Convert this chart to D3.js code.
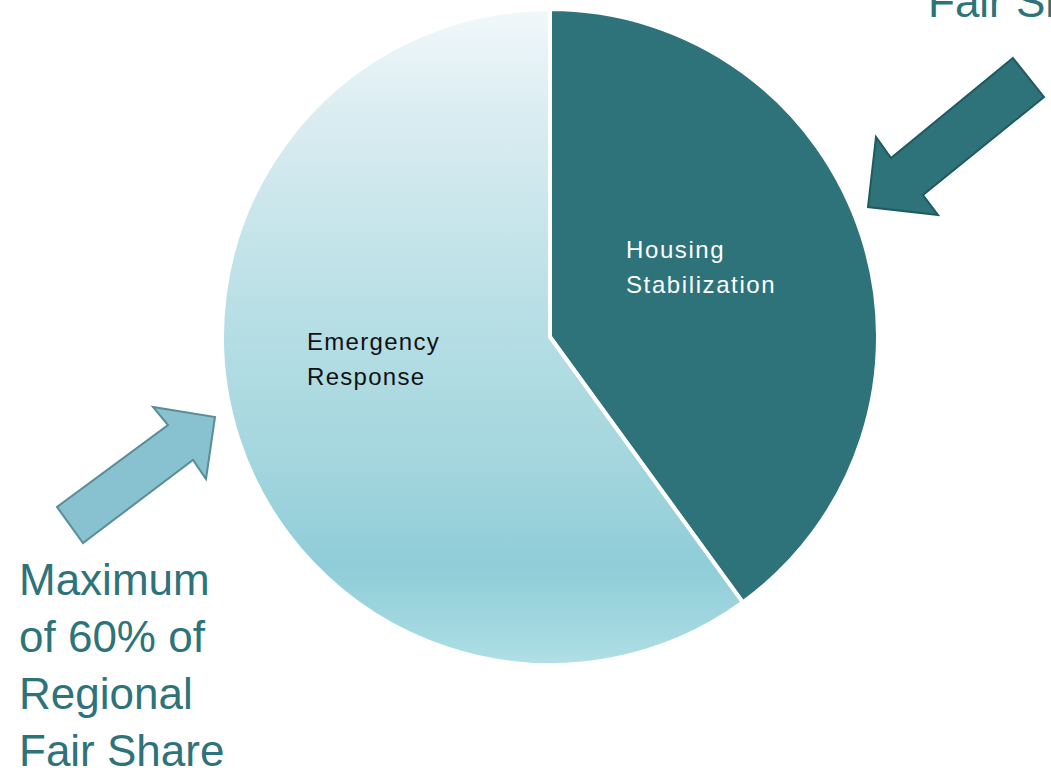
<!DOCTYPE html>
<html>
<head>
<meta charset="utf-8">
<script src="https://cdn.jsdelivr.net/npm/d3@7/dist/d3.min.js"></script>
<style>
  body { margin: 0; background: #fff; overflow: hidden; }
  text { font-family: "Liberation Sans", Arial, sans-serif; }
</style>
</head>
<body>
<script>
// pie data
var categories = ["Housing Stabilization", "Emergency Response"];
var shares = [40, 60];
var labelLines = [["Housing", "Stabilization"], ["Emergency", "Response"]];
var noteLeft = ["Maximum", "of 60% of", "Regional", "Fair Share"];
var noteRight = ["Fair Share"];

var width = 1051, height = 771;
var cx = 550, cy = 337, r = 328;

var svg = d3.select("body")
  .append("svg")
    .attr("width", width)
    .attr("height", height);

// gradient is in the pie group's own coordinates
var defs = svg.append("defs");
var grad = defs.append("linearGradient")
    .attr("id", "lightFill")
    .attr("gradientUnits", "userSpaceOnUse")
    .attr("x1", 0).attr("y1", -r)
    .attr("x2", 0).attr("y2", r);
[[0, "#f1f8fa"], [0.15, "#dcedf2"], [0.46, "#b8dfe5"], [0.69, "#a4d6de"],
 [0.85, "#8fcdd8"], [0.97, "#a8dbe2"], [1, "#b2dfe5"]].forEach(function(s) {
  grad.append("stop").attr("offset", s[0]).attr("stop-color", s[1]);
});

var fills = ["#2e737a", "url(#lightFill)"];

var pie = d3.pie().sort(null).value(function(d) { return d; });
var arc = d3.arc().innerRadius(0).outerRadius(r);

var g = svg.append("g").attr("transform", "translate(" + cx + "," + cy + ")");

g.selectAll("path")
    .data(pie(shares))
    .enter()
  .append("path")
    .attr("d", arc)
    .attr("fill", function(d, i) { return fills[i]; })
    .attr("stroke", "#fff")
    .attr("stroke-width", 4)
    .attr("stroke-linejoin", "round");

// slice labels
var labelPos = [[626, 258], [307, 350]];
var labelColor = ["#fff", "#111"];
var labelSpacing = [1.6, 1.3];
categories.forEach(function(c, i) {
  var t = svg.append("text")
      .attr("x", labelPos[i][0])
      .attr("y", labelPos[i][1])
      .attr("fill", labelColor[i])
      .attr("font-size", 24)
      .attr("letter-spacing", labelSpacing[i]);
  labelLines[i].forEach(function(l, j) {
    t.append("tspan").attr("x", labelPos[i][0]).attr("dy", j ? 35 : 0).text(l);
  });
});

// arrows
svg.append("polygon")
    .attr("points", "1013,58 1044,97 923,195 938,215 868,207 876,137 891,158")
    .attr("fill", "#2e737a")
    .attr("stroke", "#1f5a60")
    .attr("stroke-width", 2);

svg.append("polygon")
    .attr("points", "57,507 83,543 193,460 206,479 215,417 153,407 168,425")
    .attr("fill", "#88c1cf")
    .attr("stroke", "#5a8e97")
    .attr("stroke-width", 2);

// notes
var left = svg.append("text")
    .attr("x", 19).attr("y", 595)
    .attr("fill", "#2e737a")
    .attr("font-size", 44);
noteLeft.forEach(function(l, j) {
  left.append("tspan").attr("x", 19).attr("dy", j ? 57 : 0).text(l);
});

svg.append("text")
    .attr("x", 928).attr("y", 17)
    .attr("fill", "#2e737a")
    .attr("font-size", 44)
    .text(noteRight[0]);
</script>
</body>
</html>
